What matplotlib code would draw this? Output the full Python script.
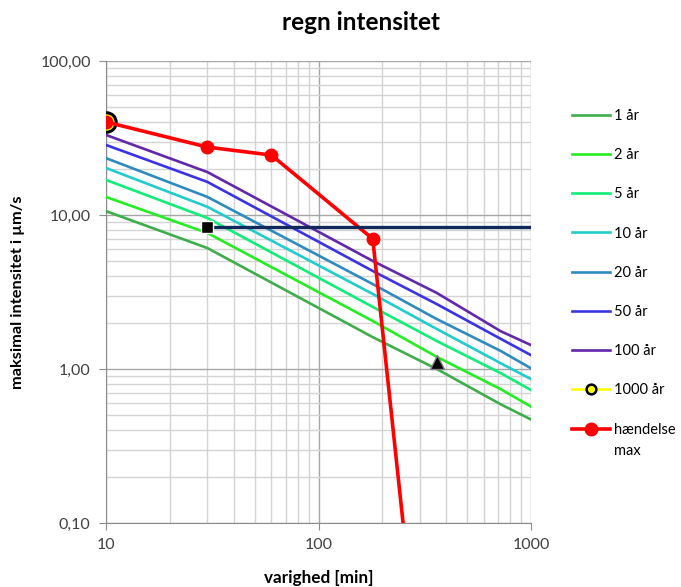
import numpy as np
import matplotlib.pyplot as plt
from matplotlib.ticker import FixedLocator, FuncFormatter, LogLocator, NullFormatter

plt.rcParams['font.family'] = ['Lato', 'DejaVu Sans']

# varighed [min] and intensitet [um/s]
dur = [10, 30, 180, 360, 720, 1000]
i_1 = [10.6, 6.1, 1.61, 1.00, 0.59, 0.47]
i_2 = [13.1, 7.64, 2.05, 1.20, 0.74, 0.57]
i_5 = [16.9, 9.56, 2.53, 1.52, 0.94, 0.73]
i_10 = [20.2, 11.3, 3.07, 1.82, 1.09, 0.86]
i_20 = [23.4, 13.1, 3.56, 2.11, 1.31, 1.01]
i_50 = [28.5, 16.4, 4.33, 2.64, 1.57, 1.23]
i_100 = [33.1, 19.0, 5.03, 3.12, 1.76, 1.43]

dur_1000 = [10]
i_1000 = [40.2]

dur_event = [10, 30, 60, 180, 360]
i_event = [40.2, 27.6, 24.5, 7.0, 0.0009]

dur_level = [30, 1000]
i_level = [8.36, 8.36]

dur_tri = [360]
i_tri = [1.11]

labels = ['1 år', '2 år', '5 år', '10 år', '20 år', '50 år', '100 år']
colors = ['#3DAE4A', '#22EE22', '#11EE77', '#22CCCC', '#2E8BC0', '#3A33E6', '#6426AA']
series = [i_1, i_2, i_5, i_10, i_20, i_50, i_100]

fig = plt.figure(figsize=(6.81, 5.87), dpi=100)
ax = fig.add_axes([106/681, 1-523/587, (531-106)/681, (523-61)/587])

for vals, c, lab in zip(series, colors, labels):
    ax.plot(dur, vals, color=c, lw=1.9, label=lab, zorder=3)

ax.plot(dur_1000, i_1000, color='#FFFF00', lw=1.9, marker='o', ms=14,
        mfc='#FFFF00', mec='black', mew=2.2, label='1000 år', zorder=4)
ax.plot(dur_event, i_event, color='#FF0000', lw=2.6, marker='o', ms=9,
        mfc='#FF0000', mec='#FF0000', label='hændelse', zorder=5)
ax.plot(dur_level, i_level, color='#10295A', lw=2.4, marker='s', ms=9,
        mfc='black', mec='white', mew=1, markevery=[0], zorder=6)
ax.plot(dur_tri, i_tri, ls='none', marker='^', ms=10, mfc='black',
        mec='#808080', mew=1, zorder=7)

ax.set_xscale('log')
ax.set_yscale('log')
ax.set_xlim(10, 1000)
ax.set_ylim(0.1, 100)

ax.xaxis.set_major_locator(FixedLocator([10, 100, 1000]))
ax.yaxis.set_major_locator(FixedLocator([0.1, 1, 10, 100]))
ax.xaxis.set_minor_locator(LogLocator(base=10, subs=np.arange(2, 10)))
ax.yaxis.set_minor_locator(LogLocator(base=10, subs=np.arange(2, 10)))
ax.xaxis.set_minor_formatter(NullFormatter())
ax.yaxis.set_minor_formatter(NullFormatter())
ax.xaxis.set_major_formatter(FuncFormatter(lambda v, p: '%d' % v))
ax.yaxis.set_major_formatter(FuncFormatter(lambda v, p: ('%.2f' % v).replace('.', ',')))

ax.grid(which='major', color='#A6A6A6', lw=1)
ax.grid(which='minor', color='#D4D4D4', lw=1)
ax.set_axisbelow(True)
for s in ['top', 'right']:
    ax.spines[s].set_visible(False)
for s in ['left', 'bottom']:
    ax.spines[s].set_color('#8C8C8C')
ax.tick_params(which='major', direction='out', length=5, color='#8C8C8C',
               labelsize=11.5, labelcolor='#404040', pad=6)
ax.tick_params(which='minor', length=0)

ax.set_xlabel('varighed [min]', fontsize=12.3, fontweight='bold', labelpad=13)
ax.set_ylabel('maksimal intensitet i µm/s', fontsize=11.8, fontweight='bold', labelpad=11)
fig.text(361/681, 1-22/587, 'regn intensitet', fontsize=17.5, fontweight='bold',
         ha='center', va='center')

leg = fig.legend(loc='upper left', bbox_to_anchor=(566/681, 1-103/587),
                 frameon=False, fontsize=10.5, handlelength=2.6,
                 handletextpad=0.3, labelspacing=1.73, borderaxespad=0)
leg.legend_handles[7].set_markersize(7)
leg.legend_handles[7].set_markeredgewidth(1.8)
fig.canvas.draw()
ax.annotate('max', xy=(0, 0), xycoords=leg.get_texts()[-1], xytext=(0, -5),
            textcoords='offset points', va='top', ha='left', fontsize=10.5,
            annotation_clip=False)

fig.savefig('out.png', dpi=100)
